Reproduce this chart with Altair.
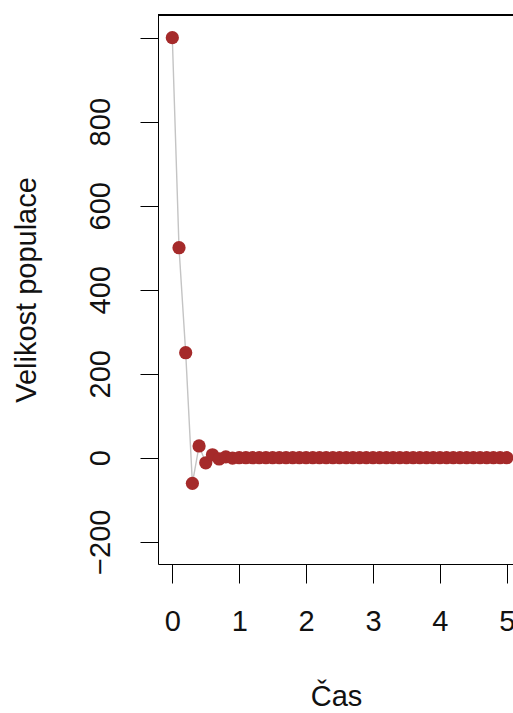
import altair as alt
import pandas as pd

# Simulated population size over time (step 0.1)
cas = [0.0, 0.1, 0.2, 0.3, 0.4, 0.5, 0.6, 0.7, 0.8, 0.9,
       1.0, 1.1, 1.2, 1.3, 1.4, 1.5, 1.6, 1.7, 1.8, 1.9,
       2.0, 2.1, 2.2, 2.3, 2.4, 2.5, 2.6, 2.7, 2.8, 2.9,
       3.0, 3.1, 3.2, 3.3, 3.4, 3.5, 3.6, 3.7, 3.8, 3.9,
       4.0, 4.1, 4.2, 4.3, 4.4, 4.5, 4.6, 4.7, 4.8, 4.9,
       5.0]
populace = [1000, 500, 250, -61, 28, -12, 7, -3, 2, -1,
            0, 0, 0, 0, 0, 0, 0, 0, 0, 0,
            0, 0, 0, 0, 0, 0, 0, 0, 0, 0,
            0, 0, 0, 0, 0, 0, 0, 0, 0, 0,
            0, 0, 0, 0, 0, 0, 0, 0, 0, 0,
            0]

x_ticks = [0, 1, 2, 3, 4, 5]
y_ticks = [-200, 0, 200, 400, 600, 800, 1000]

df = pd.DataFrame({"cas": cas, "populace": populace})

FONT = "Liberation Sans"
FS = 29
W, H = 355, 549

x_enc = alt.X(
    "cas:Q",
    scale=alt.Scale(domain=[-0.214, 5.093], nice=False, zero=False),
    axis=alt.Axis(
        values=x_ticks, format="d", title="Čas", grid=False,
        tickSize=19, labelPadding=24, labelFlush=False,
        titleX=W / 2 + 0.5, titleY=141, titleAlign="center", titleBaseline="alphabetic",
    ),
)
y_enc = alt.Y(
    "populace:Q",
    scale=alt.Scale(domain=[-253, 1054], nice=False, zero=False),
    axis=alt.Axis(
        values=y_ticks, format="d", title="Velikost populace", grid=False,
        tickSize=18, labelPadding=40, labelAngle=270,
        labelAlign="center", labelBaseline="middle", labelFlush=False,
        labelExpr="datum.value == 1000 ? '' : datum.label",
        titleX=-132, titleY=H / 2, titleAlign="center", titleBaseline="middle", titleAngle=270,
    ),
)

line = alt.Chart(df).mark_line(color="#c4c4c4", strokeWidth=1.4).encode(x=x_enc, y=y_enc)
points = alt.Chart(df).mark_circle(color="#a52a2a", size=175, opacity=1).encode(x="cas:Q", y="populace:Q")
frame_top = alt.Chart(df).mark_rule(color="black", strokeWidth=1).encode(
    x=alt.value(0), x2=alt.value(W), y=alt.value(0)
)

chart = (
    alt.layer(line, points, frame_top)
    .properties(
        width=W, height=H,
        autosize=alt.AutoSizeParams(type="none"),
        padding={"left": 158, "top": 15, "right": 0, "bottom": 149},
        background="white",
    )
    .configure_view(stroke=None)
    .configure_axis(
        labelFont=FONT, titleFont=FONT, labelFontSize=FS, titleFontSize=FS,
        labelColor="#111", titleColor="#111", titleFontWeight="normal",
        domainColor="black", tickColor="black", domainWidth=1, tickWidth=1,
    )
)

chart.save("out.html", embed_options={"renderer": "svg", "actions": False})
